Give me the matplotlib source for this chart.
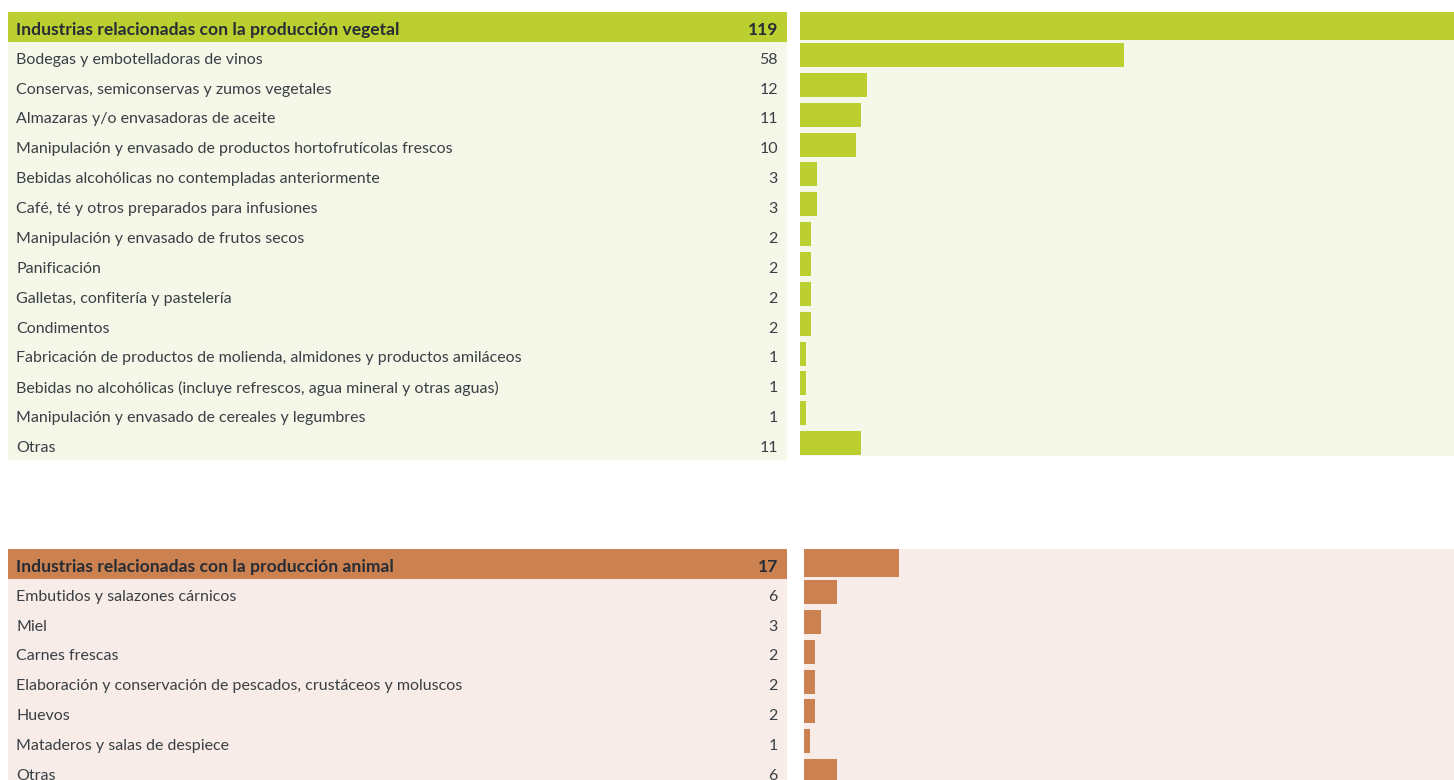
import matplotlib
matplotlib.use("Agg")
import matplotlib.pyplot as plt

# ---------------- data ----------------
veg_title = "Industrias relacionadas con la producción vegetal"
veg_total = 119
veg_labels = [
    "Bodegas y embotelladoras de vinos",
    "Conservas, semiconservas y zumos vegetales",
    "Almazaras y/o envasadoras de aceite",
    "Manipulación y envasado de productos hortofrutícolas frescos",
    "Bebidas alcohólicas no contempladas anteriormente",
    "Café, té y otros preparados para infusiones",
    "Manipulación y envasado de frutos secos",
    "Panificación",
    "Galletas, confitería y pastelería",
    "Condimentos",
    "Fabricación de productos de molienda, almidones y productos amiláceos",
    "Bebidas no alcohólicas (incluye refrescos, agua mineral y otras aguas)",
    "Manipulación y envasado de cereales y legumbres",
    "Otras",
]
veg_values = [58, 12, 11, 10, 3, 3, 2, 2, 2, 2, 1, 1, 1, 11]

ani_title = "Industrias relacionadas con la producción animal"
ani_total = 17
ani_labels = [
    "Embutidos y salazones cárnicos",
    "Miel",
    "Carnes frescas",
    "Elaboración y conservación de pescados, crustáceos y moluscos",
    "Huevos",
    "Mataderos y salas de despiece",
    "Otras",
]
ani_values = [6, 3, 2, 2, 2, 1, 6]

# ---------------- style ----------------
W, H = 1454, 780
GREEN, GREEN_BG = "#BBCF30", "#F5F7E9"
ORANGE, ORANGE_BG = "#CC8150", "#F7ECE7"
TEXT = "#3A3F45"
HEAD_TEXT = "#272C35"
FONT = "Lato"
PITCH = 29.86
SCALE = 5.58  # px per unit
FS = 11.5
FS_HEAD = 12.6

fig = plt.figure(figsize=(W / 100, H / 100), dpi=100)
fig.patch.set_facecolor("white")


def px_axes(x0, y0, x1, y1):
    return fig.add_axes([x0 / W, 1 - y1 / H, (x1 - x0) / W, (y1 - y0) / H])


def clean(ax):
    ax.set_xticks([])
    ax.set_yticks([])
    for s in ax.spines.values():
        s.set_visible(False)


def panel(top, title, total, labels, values, dark, light, bar_x0, right_bottom):
    n = len(labels) + 1
    bottom = top + n * PITCH
    # ---- left table ----
    axl = px_axes(8, top, 787, bottom)
    axl.set_xlim(0, 779)
    axl.set_ylim(n - 0.5, -0.5)
    axl.set_facecolor(light)
    axl.axhspan(-0.5, 0.5, color=dark, lw=0)
    dy = 0.1
    axl.text(8, dy, title, ha="left", va="center", fontsize=FS_HEAD,
             fontweight="bold", color=HEAD_TEXT, family=FONT)
    axl.text(770, dy, str(total), ha="right", va="center", fontsize=FS_HEAD,
             fontweight="bold", color=HEAD_TEXT, family=FONT)
    for i, (lab, v) in enumerate(zip(labels, values), start=1):
        axl.text(8, i + dy, lab, ha="left", va="center", fontsize=FS,
                 color=TEXT, family=FONT)
        axl.text(770, i + dy, str(v), ha="right", va="center", fontsize=FS,
                 color=TEXT, family=FONT)
    clean(axl)
    # ---- right bars ----
    axr = px_axes(bar_x0, top, W, right_bottom)
    nr = (right_bottom - top) / PITCH
    axr.set_ylim(nr - 0.5, -0.5)
    axr.set_xlim(0, (W - bar_x0) / SCALE)
    axr.set_facecolor(light)
    head_h = 28 / PITCH
    axr.barh([-0.5 + head_h / 2], [total], height=head_h, color=dark, lw=0)
    ys = [i - 0.06 for i in range(1, n)]
    axr.barh(ys, values, height=24 / PITCH, color=dark, lw=0)
    clean(axr)


panel(12, veg_title, veg_total, veg_labels, veg_values,
      GREEN, GREEN_BG, 800, 456)
panel(549, ani_title, ani_total, ani_labels, ani_values,
      ORANGE, ORANGE_BG, 804, 549 + 8 * PITCH)

fig.savefig("out.png", dpi=100, facecolor="white")
